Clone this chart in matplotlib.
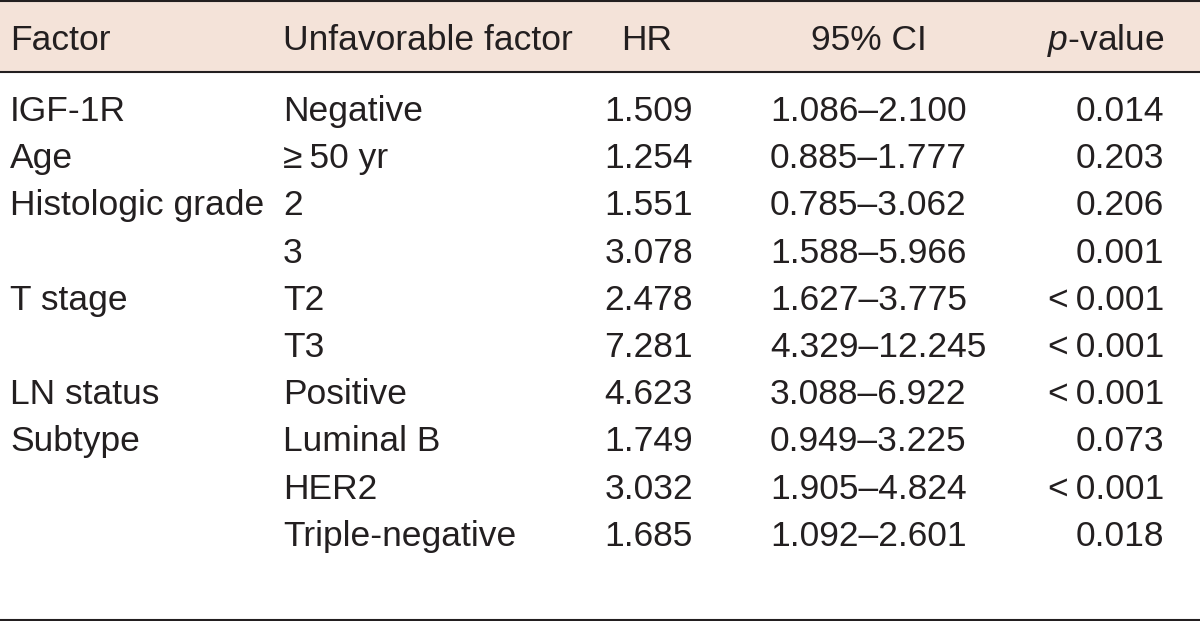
import matplotlib
matplotlib.use("Agg")
import matplotlib.pyplot as plt
from matplotlib.patches import Rectangle

factors = ["IGF-1R", "Age", "Histologic grade", "", "T stage", "", "LN status", "Subtype", "", ""]
unfavorable = ["Negative", "\u2265\u200950 yr", "2", "3", "T2", "T3", "Positive", "Luminal B", "HER2", "Triple-negative"]
hr = ["1.509", "1.254", "1.551", "3.078", "2.478", "7.281", "4.623", "1.749", "3.032", "1.685"]
ci = ["1.086\u20132.100", "0.885\u20131.777", "0.785\u20133.062", "1.588\u20135.966", "1.627\u20133.775",
      "4.329\u201312.245", "3.088\u20136.922", "0.949\u20133.225", "1.905\u20134.824", "1.092\u20132.601"]
pvals = ["0.014", "0.203", "0.206", "0.001", "<\u20090.001", "<\u20090.001", "<\u20090.001", "0.073", "<\u20090.001", "0.018"]

plt.rcParams["mathtext.fontset"] = "custom"
plt.rcParams["mathtext.rm"] = "Liberation Sans"
plt.rcParams["mathtext.it"] = "Liberation Sans:italic"

W, H = 1200, 621
fig = plt.figure(figsize=(12, 6.21), dpi=100)
ax = fig.add_axes([0, 0, 1, 1])
ax.set_xlim(0, W)
ax.set_ylim(H, 0)
ax.axis("off")

fam = ["Liberation Sans", "DejaVu Sans"]
fs = 25.5
col = "#231f20"

ax.add_patch(Rectangle((0, 2), W, 69, facecolor="#f4e3d9", edgecolor="none"))
for y in (1.2, 71.5, 619.5):
    ax.plot([0, W], [y, y], color=col, lw=1.5, solid_capstyle="butt")

hy = 50
kw = dict(va="baseline", fontsize=fs, family=fam, color=col)
ax.text(10, hy, "Factor", ha="left", **kw)
ax.text(283, hy, "Unfavorable factor", ha="left", **kw)
ax.text(647, hy, "HR", ha="center", **kw)
ax.text(869, hy, "95% CI", ha="center", **kw)
ax.text(1164, hy, r"$\it{p}$-value", ha="right", **kw)

y0, dy = 121, 47.2
for i in range(len(hr)):
    y = y0 + i * dy
    ax.text(10, y, factors[i], ha="left", **kw)
    ax.text(283, y, unfavorable[i], ha="left", **kw)
    ax.text(693, y, hr[i], ha="right", **kw)
    ax.text(770, y, ci[i], ha="left", **kw)
    ax.text(1164, y, pvals[i], ha="right", **kw)

fig.savefig("out.png", dpi=100)
